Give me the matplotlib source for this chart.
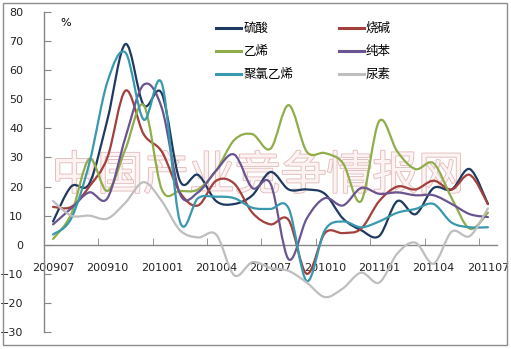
import matplotlib
matplotlib.use("Agg")
import matplotlib.pyplot as plt
from matplotlib.path import Path
from matplotlib.patches import PathPatch, Rectangle
from matplotlib.lines import Line2D
import matplotlib.patheffects as pe
import numpy as np

plt.rcParams['font.family'] = ['Noto Sans CJK SC', 'DejaVu Sans']

months = ["200907", "200908", "200909", "200910", "200911", "200912",
          "201001", "201002", "201003", "201004", "201005", "201006",
          "201007", "201008", "201009", "201010", "201011", "201012",
          "201101", "201102", "201103", "201104", "201105", "201106", "201107"]

sulfuric = [8, 20, 21, 43, 69, 48, 52, 22, 24, 15, 14, 17, 25, 19, 19, 17.5, 9, 5, 3, 15, 10.5, 19.5, 19, 26, 14]
caustic = [13, 13, 20, 30, 53, 38, 32, 18, 13.5, 22, 21, 11, 7, 8.5, -10, 4, 4, 5.5, 15, 20, 19, 22, 19, 24, 14]
ethylene = [2, 10.5, 29.5, 18.5, 33, 48, 19, 18.5, 19, 25.5, 36, 38, 33, 48, 32, 31.5, 28, 15, 42.5, 32, 26, 28, 16, 5.5, 11]
benzene = [7, 12.5, 18, 16, 37, 55, 47, 17.5, 18, 25.5, 31, 19.5, 21, -5, 9, 16, 13.5, 19.5, 17.5, 18, 17, 17, 14, 10.5, 9.5]
pvc = [3.5, 9, 28, 56, 66, 43, 55.5, 8, 16, 16.5, 16, 12.7, 12.3, 12.5, -12.5, 5, 8, 6, 8, 11, 12.3, 14, 7.6, 6, 6]
urea = [15, 10, 10, 9, 14.5, 21.5, 15, 5, 2.5, 3.5, -10.5, -6, -8, -9, -13, -18, -15, -9.6, -13, -3, 0.7, -6.5, 4.5, 3, 12.5]

names = ["硫酸", "烧碱", "乙烯", "纯苯", "聚氯乙烯", "尿素"]
series = [sulfuric, caustic, ethylene, benzene, pvc, urea]
colors = ["#1F3A60", "#A33F3C", "#8FAE4B", "#6A5590", "#3898AE", "#BEBEBE"]

W, H = 511, 349
fig = plt.figure(figsize=(W / 100, H / 100), dpi=100)
ax = fig.add_axes([44 / W, 1 - 332 / H, (497 - 44) / W, 320 / H])


def smooth_path(xs, ys):
    pts = np.column_stack([xs, ys]).astype(float)
    n = len(pts)
    verts = [pts[0]]
    codes = [Path.MOVETO]
    for i in range(n - 1):
        p0 = pts[i - 1] if i > 0 else pts[i]
        p1 = pts[i]
        p2 = pts[i + 1]
        p3 = pts[i + 2] if i + 2 < n else pts[i + 1]
        c1 = p1 + (p2 - p0) / 6.0
        c2 = p2 - (p3 - p1) / 6.0
        verts += [c1, c2, p2]
        codes += [Path.CURVE4] * 3
    return Path(verts, codes)


x = np.arange(len(months))
handles = []
for name, vals, col in zip(names, series, colors):
    patch = PathPatch(smooth_path(x, vals), fill=False, edgecolor=col, lw=1.6,
                      capstyle='round', joinstyle='round', zorder=3)
    ax.add_patch(patch)
    handles.append(Line2D([], [], color=col, lw=2.2))

ax.set_xlim(-0.5, len(months) - 0.5)
ax.set_ylim(-30, 80)

for s in ['top', 'right']:
    ax.spines[s].set_visible(False)
ax.spines['bottom'].set_position(('data', 0))
ax.spines['left'].set_color('#868686')
ax.spines['bottom'].set_color('#868686')
ax.spines['left'].set_linewidth(1.0)
ax.spines['bottom'].set_linewidth(1.0)

ax.set_yticks(np.arange(-30, 81, 10))
ax.tick_params(axis='y', direction='in', length=5, color='#868686', pad=15,
               labelsize=8, labelcolor='#222222')
for lab in ax.get_yticklabels():
    lab.set_fontfamily('DejaVu Sans')

ax.set_xticks(x[::3])
ax.set_xticklabels(months[::3], fontfamily='DejaVu Sans')
ax.set_xticks(np.arange(2.5, len(months) - 0.5, 3), minor=True)
ax.tick_params(axis='x', which='major', length=0, pad=13, labelsize=8, labelcolor='#222222')
ax.tick_params(axis='x', which='minor', direction='in', length=5, color='#868686')

ax.text(60 / W, 1 - 23 / H, "%", transform=fig.transFigure, fontsize=8,
        fontfamily='DejaVu Sans', va='center', ha='left')

wm = fig.text(258 / W, 1 - 176 / H, "中国产业竞争情报网", fontsize=33,
              ha='center', va='center', color='#FDF3F3', zorder=0.5,
              fontfamily='Noto Sans CJK SC')
wm.set_path_effects([pe.withStroke(linewidth=1.3, foreground='#E3BDBD')])
ax.set_zorder(1)
ax.patch.set_alpha(0)

# legend laid out row by row: (硫酸, 烧碱), (乙烯, 纯苯), (聚氯乙烯, 尿素)
order = [0, 2, 4, 1, 3, 5]
leg = ax.legend([handles[i] for i in order], [names[i] for i in order], ncol=2,
                loc='upper left',
                bbox_to_anchor=(216 / W, 1 - 22 / H), bbox_transform=fig.transFigure,
                frameon=False, fontsize=9, handlelength=2.0, handletextpad=0.2,
                columnspacing=3.6, labelspacing=0.8, borderpad=0, borderaxespad=0)

fig.patches.append(Rectangle((3 / W, 1 - 345 / H), 504 / W, 342 / H, transform=fig.transFigure,
                             fill=False, edgecolor='#8C8C8C', lw=1.0))

fig.savefig("out.png", dpi=100)
